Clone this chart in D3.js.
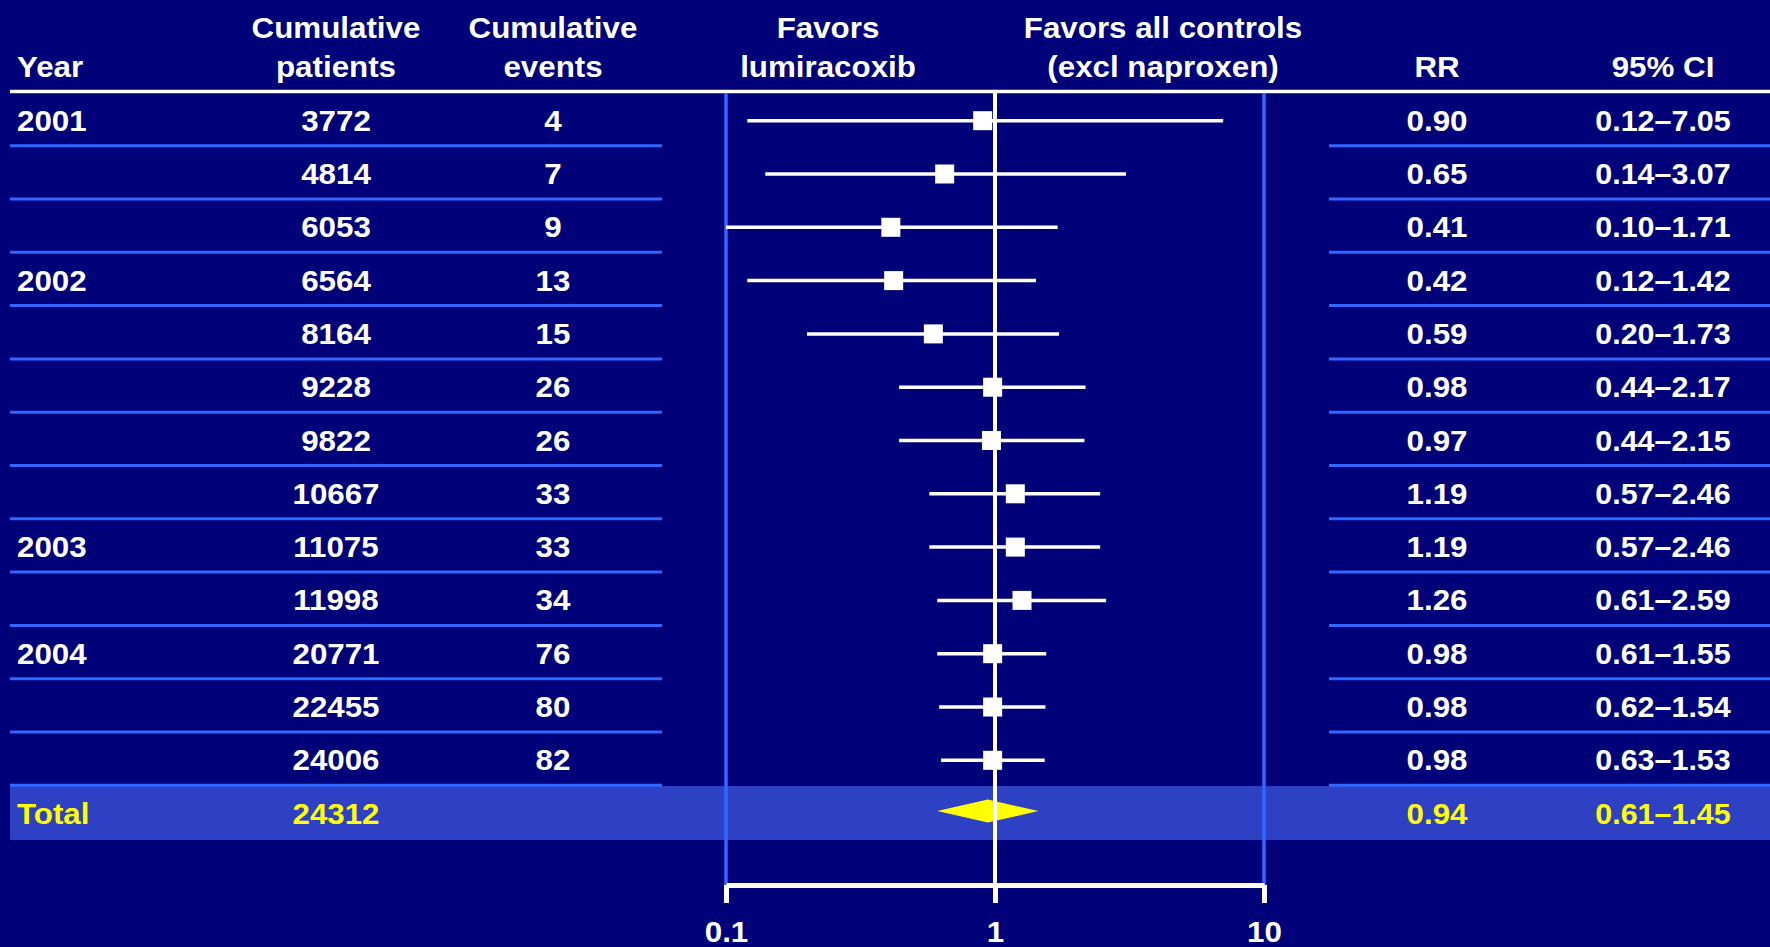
<!DOCTYPE html>
<html>
<head>
<meta charset="utf-8">
<script src="https://cdn.jsdelivr.net/npm/d3@7/dist/d3.min.js"></script>
<style>
  html, body { margin: 0; padding: 0; background: #000078; }
  svg { display: block; }
  text { font-family: "Liberation Sans", Arial, sans-serif; font-weight: bold; font-size: 29px; }
</style>
</head>
<body>
<svg id="chart" width="1770" height="947"></svg>
<script>
// Cumulative meta-analysis, one row per analysis step
const years    = ["2001", "", "", "2002", "", "", "", "", "2003", "", "2004", "", ""];
const patients = [3772, 4814, 6053, 6564, 8164, 9228, 9822, 10667, 11075, 11998, 20771, 22455, 24006];
const events   = [4, 7, 9, 13, 15, 26, 26, 33, 33, 34, 76, 80, 82];
const rr       = [0.90, 0.65, 0.41, 0.42, 0.59, 0.98, 0.97, 1.19, 1.19, 1.26, 0.98, 0.98, 0.98];
const ciLow    = [0.12, 0.14, 0.10, 0.12, 0.20, 0.44, 0.44, 0.57, 0.57, 0.61, 0.61, 0.62, 0.63];
const ciHigh   = [7.05, 3.07, 1.71, 1.42, 1.73, 2.17, 2.15, 2.46, 2.46, 2.59, 1.55, 1.54, 1.53];

// Pooled total
const totalLabel    = "Total";
const totalPatients = 24312;
const totalRR       = 0.94;
const totalLow      = 0.61;
const totalHigh     = 1.45;

const axisTicks = [0.1, 1, 10];
const headers = [
  { lines: ["Year"], x: 17, anchor: "start" },
  { lines: ["Cumulative", "patients"], x: 336, anchor: "middle" },
  { lines: ["Cumulative", "events"], x: 553, anchor: "middle" },
  { lines: ["Favors", "lumiracoxib"], x: 828, anchor: "middle" },
  { lines: ["Favors all controls", "(excl naproxen)"], x: 1163, anchor: "middle" },
  { lines: ["RR"], x: 1437, anchor: "middle" },
  { lines: ["95% CI"], x: 1663, anchor: "middle" }
];

const BG = "#000078", BLUE = "#3366ff", BAND = "#2e40c4", YELLOW = "#ffff00", WHITE = "#ffffff";
const SX = 1.08;    // slightly wide lettering
const SX_CI = 1.05; // CI ranges are a little tighter

const svg = d3.select("#chart");
svg.append("rect").attr("width", 1770).attr("height", 947).attr("fill", BG);

const x = d3.scaleLog().domain([0.1, 10]).range([726, 1264]);
const nRows = patients.length;
const y = d3.scaleLinear().domain([0, nRows]).range([120.7, 120.7 + nRows * 53.3]);
const axisY = 885;
const fmt2 = d3.format(".2f");

// text placed at (px, py), widened horizontally around its anchor
function label(g, px, py, str, anchor, fill, sx = SX) {
  return g.append("text")
    .attr("transform", `translate(${px},${py}) scale(${sx},1)`)
    .attr("text-anchor", anchor || "middle")
    .attr("fill", fill)
    .text(str);
}

// Header
const hdr = svg.append("g");
headers.forEach(h => {
  const base = h.lines.length === 1 ? [77] : [38, 77];
  h.lines.forEach((ln, i) => label(hdr, h.x, base[i], ln, h.anchor, WHITE));
});
svg.append("line").attr("x1", 10).attr("x2", 1770).attr("y1", 91.5).attr("y2", 91.5)
  .attr("stroke", WHITE).attr("stroke-width", 3.5);

// Total band
svg.append("rect").attr("x", 10).attr("y", 786).attr("width", 1760).attr("height", 54).attr("fill", BAND);

// Row separators (left and right tables)
const idx = d3.range(nRows);
svg.append("g").selectAll("line").data(idx).join("line")
  .attr("x1", 10).attr("x2", 662)
  .attr("y1", i => y(i) + 25).attr("y2", i => y(i) + 25)
  .attr("stroke", BLUE).attr("stroke-width", 3);
svg.append("g").selectAll("line").data(idx).join("line")
  .attr("x1", 1329).attr("x2", 1770)
  .attr("y1", i => y(i) + 25).attr("y2", i => y(i) + 25)
  .attr("stroke", BLUE).attr("stroke-width", 3);

// Plot frame verticals at 0.1 and 10
[0.1, 10].forEach(v => {
  svg.append("line").attr("x1", x(v)).attr("x2", x(v)).attr("y1", 93).attr("y2", axisY)
    .attr("stroke", BLUE).attr("stroke-width", 3.5);
});

// Table text
const rowText = svg.append("g");
idx.forEach(i => {
  const by = y(i) + 10;
  if (years[i]) label(rowText, 17, by, years[i], "start", WHITE);
  label(rowText, 336, by, patients[i], "middle", WHITE);
  label(rowText, 553, by, events[i], "middle", WHITE);
  label(rowText, 1437, by, fmt2(rr[i]), "middle", WHITE);
  label(rowText, 1663, by, fmt2(ciLow[i]) + "\u2013" + fmt2(ciHigh[i]), "middle", WHITE, SX_CI);
});

// Confidence intervals
svg.append("g").selectAll("line").data(idx).join("line")
  .attr("x1", i => x(ciLow[i])).attr("x2", i => x(ciHigh[i]))
  .attr("y1", i => y(i)).attr("y2", i => y(i))
  .attr("stroke", WHITE).attr("stroke-width", 3.5);

// Total row
const ty = y(nRows);
const tot = svg.append("g");
label(tot, 17, ty + 10, totalLabel, "start", YELLOW);
label(tot, 336, ty + 10, totalPatients, "middle", YELLOW);
label(tot, 1437, ty + 10, fmt2(totalRR), "middle", YELLOW);
label(tot, 1663, ty + 10, fmt2(totalLow) + "\u2013" + fmt2(totalHigh), "middle", YELLOW, SX_CI);
const dy = ty - 2.5;
svg.append("path")
  .attr("d", `M${x(totalLow)},${dy} L${x(totalRR)},${dy - 11.5} L${x(totalHigh)},${dy} L${x(totalRR)},${dy + 11.5} Z`)
  .attr("fill", YELLOW);

// Line of no effect
svg.append("line").attr("x1", x(1)).attr("x2", x(1)).attr("y1", 93).attr("y2", axisY)
  .attr("stroke", WHITE).attr("stroke-width", 4);

// Point estimates
svg.append("g").selectAll("rect").data(idx).join("rect")
  .attr("x", i => x(rr[i]) - 9.5).attr("y", i => y(i) - 9.5)
  .attr("width", 19).attr("height", 19).attr("fill", WHITE);

// Log axis
const axis = d3.axisBottom(x).tickValues(axisTicks).tickSize(18).tickSizeOuter(0)
  .tickFormat(d => String(d));
const ax = svg.append("g").attr("transform", `translate(0,${axisY})`).call(axis);
ax.select(".domain").attr("stroke", WHITE).attr("stroke-width", 5);
ax.selectAll(".tick line").attr("stroke", WHITE).attr("stroke-width", 5);
ax.selectAll(".tick text").attr("fill", WHITE).attr("y", 0).attr("dy", 0)
  .attr("transform", `translate(0,57) scale(${SX},1)`)
  .style("font-family", "'Liberation Sans', Arial, sans-serif")
  .style("font-weight", "bold").style("font-size", "29px");
</script>
</body>
</html>
